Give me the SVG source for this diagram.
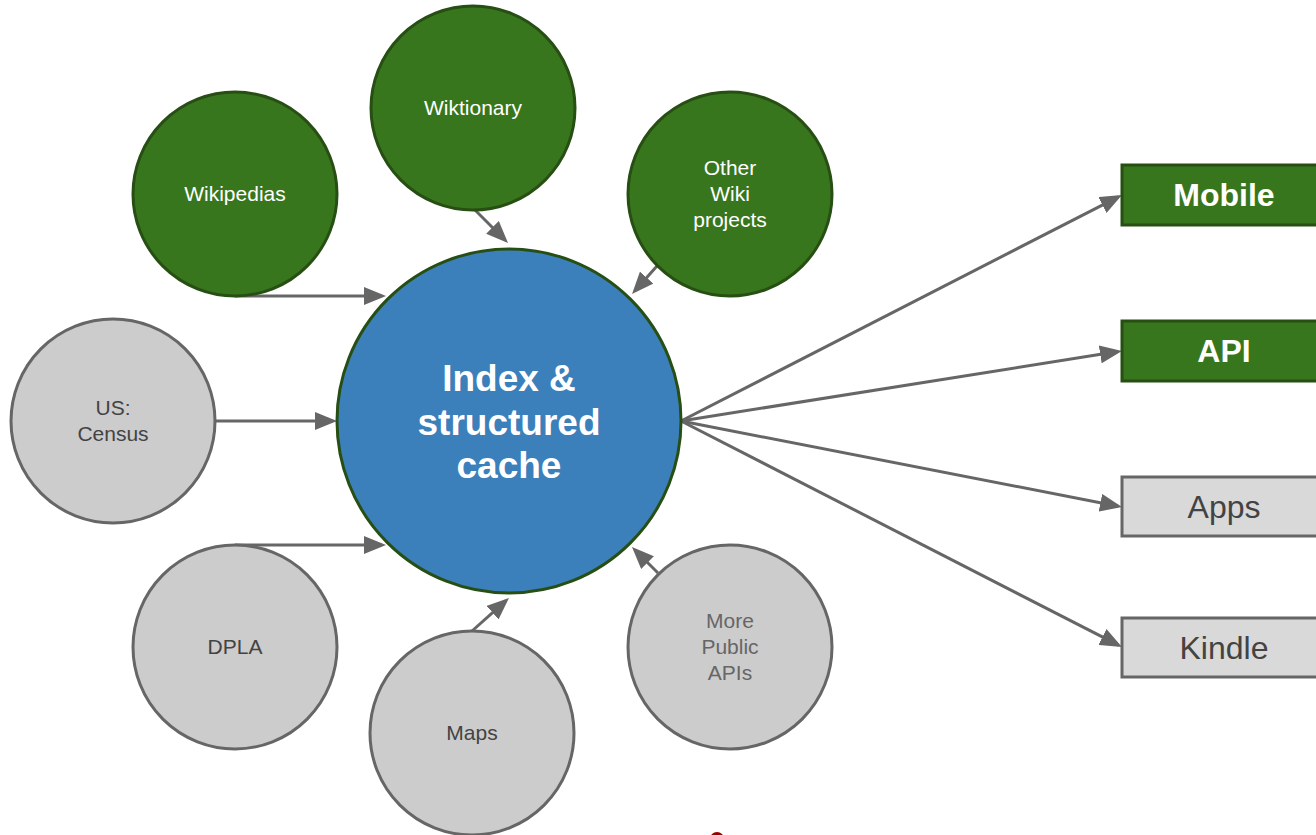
<svg xmlns="http://www.w3.org/2000/svg" width="1316" height="835" viewBox="0 0 1316 835">
<defs>
<marker id="ah" markerUnits="userSpaceOnUse" markerWidth="22" markerHeight="18" viewBox="0 0 22 18" refX="18" refY="9" orient="auto">
<path d="M0,0 L22,9 L0,18 z" fill="#666666"/>
</marker>
<style>
.g{fill:#38761d;stroke:#274e13;stroke-width:3}
.s{fill:#cccccc;stroke:#666666;stroke-width:3}
.b{fill:#d9d9d9;stroke:#666666;stroke-width:3}
.gb{fill:#38761d;stroke:#274e13;stroke-width:3}
.t{font-family:"Liberation Sans",Arial,sans-serif;font-size:21px;text-anchor:middle}
.w{fill:#ffffff}
.d{fill:#434343}
.l{fill:#666666}
.big{font-family:"Liberation Sans",Arial,sans-serif;font-size:37px;font-weight:bold;text-anchor:middle;fill:#ffffff}
.bt{font-family:"Liberation Sans",Arial,sans-serif;font-size:32px;text-anchor:middle}
.c line{stroke:#666666;stroke-width:3;marker-end:url(#ah)}
</style>
</defs>
<rect width="1316" height="835" fill="#ffffff"/>
<g class="c" id="connectors">
<line x1="235" y1="296" x2="382" y2="296"/>
<line x1="475" y1="210" x2="505.2" y2="240.2"/>
<line x1="657" y1="266" x2="634.7" y2="291"/>
<line x1="215" y1="421" x2="333" y2="421"/>
<line x1="235" y1="545" x2="382" y2="545"/>
<line x1="472" y1="631" x2="506" y2="600.7"/>
<line x1="658" y1="573" x2="634.8" y2="549.8"/>
<line x1="681" y1="421" x2="1118.4" y2="196.8"/>
<line x1="681" y1="421" x2="1118" y2="351.6"/>
<line x1="681" y1="421" x2="1118.1" y2="506.2"/>
<line x1="681" y1="421" x2="1118.4" y2="645.2"/>
</g>
<g id="center">
<circle cx="509" cy="421" r="172" fill="#3b80bb" stroke="#274e13" stroke-width="3"/>
<text class="big" x="509" y="391">Index &amp;</text>
<text class="big" x="509" y="435">structured</text>
<text class="big" x="509" y="478">cache</text>
</g>
<g id="wikipedias">
<circle class="g" cx="235" cy="194" r="102"/>
<text class="t w" x="235" y="201">Wikipedias</text>
</g>
<g id="wiktionary">
<circle class="g" cx="473" cy="108" r="102"/>
<text class="t w" x="473" y="115">Wiktionary</text>
</g>
<g id="otherwiki">
<circle class="g" cx="730" cy="194" r="102"/>
<text class="t w" x="730" y="175">Other</text>
<text class="t w" x="730" y="201">Wiki</text>
<text class="t w" x="730" y="227">projects</text>
</g>
<g id="census">
<circle class="s" cx="113" cy="421" r="102"/>
<text class="t d" x="113" y="415">US:</text>
<text class="t d" x="113" y="441">Census</text>
</g>
<g id="dpla">
<circle class="s" cx="235" cy="647" r="102"/>
<text class="t d" x="235" y="654">DPLA</text>
</g>
<g id="maps">
<circle class="s" cx="472" cy="733" r="102"/>
<text class="t d" x="472" y="740">Maps</text>
</g>
<g id="morepublic">
<circle class="s" cx="730" cy="647" r="102"/>
<text class="t l" x="730" y="628">More</text>
<text class="t l" x="730" y="654">Public</text>
<text class="t l" x="730" y="680">APIs</text>
</g>
<g id="mobile">
<rect class="gb" x="1122" y="165" width="206" height="60"/>
<text class="bt w" x="1224" y="206" font-weight="bold" font-size="31">Mobile</text>
</g>
<g id="api">
<rect class="gb" x="1122" y="321" width="206" height="60"/>
<text class="bt w" x="1224" y="362" font-weight="bold" font-size="31">API</text>
</g>
<g id="apps">
<rect class="b" x="1122" y="477" width="206" height="59"/>
<text class="bt d" x="1224" y="518">Apps</text>
</g>
<g id="kindle">
<rect class="b" x="1122" y="618" width="206" height="59"/>
<text class="bt d" x="1224" y="659">Kindle</text>
</g>
<circle cx="717" cy="839" r="7" fill="#990000"/>
</svg>
